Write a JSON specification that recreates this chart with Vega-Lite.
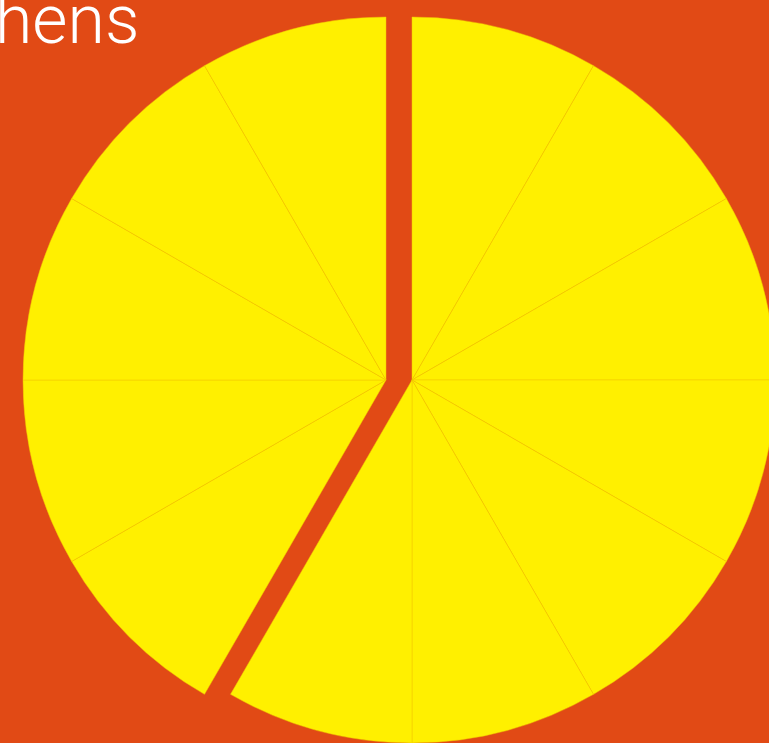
{
  "$schema": "https://vega.github.io/schema/vega-lite/v6.json",
  "autosize": {"type": "none"},
  "width": 740,
  "height": 726,
  "padding": {"left": 29, "top": 17, "right": 0, "bottom": 0},
  "background": "#E14A15",
  "view": {"stroke": null},
  "title": {
    "text": "hens",
    "anchor": "start",
    "frame": "group",
    "orient": "none",
    "offset": 0,
    "baseline": "alphabetic",
    "dx": -34,
    "dy": 26,
    "font": "Roboto",
    "fontWeight": 300,
    "fontSize": 68,
    "color": "#FFFFFF"
  },
  "data": {
    "values": [
      {"slice": 1, "start": 0, "end": 1, "group": "a"},
      {"slice": 2, "start": 1, "end": 2, "group": "a"},
      {"slice": 3, "start": 2, "end": 3, "group": "a"},
      {"slice": 4, "start": 3, "end": 4, "group": "a"},
      {"slice": 5, "start": 4, "end": 5, "group": "a"},
      {"slice": 6, "start": 5, "end": 6, "group": "a"},
      {"slice": 7, "start": 6, "end": 7, "group": "a"},
      {"slice": 8, "start": 7, "end": 8, "group": "b"},
      {"slice": 9, "start": 8, "end": 9, "group": "b"},
      {"slice": 10, "start": 9, "end": 10, "group": "b"},
      {"slice": 11, "start": 10, "end": 11, "group": "b"},
      {"slice": 12, "start": 11, "end": 12, "group": "b"}
    ]
  },
  "layer": [
    {
      "transform": [{"filter": "datum.group === 'a'"}],
      "mark": {"type": "arc", "xOffset": 13, "fill": "#FFF000", "stroke": "#F0C400", "strokeWidth": 0.5},
      "encoding": {
        "theta": {"field": "start", "type": "quantitative", "scale": {"domain": [0, 12], "range": [0, 6.283185307179586]}},
        "theta2": {"field": "end"}
      }
    },
    {
      "transform": [{"filter": "datum.group === 'b'"}],
      "mark": {"type": "arc", "xOffset": -13, "fill": "#FFF000", "stroke": "#F0C400", "strokeWidth": 0.5},
      "encoding": {
        "theta": {"field": "start", "type": "quantitative", "scale": {"domain": [0, 12], "range": [0, 6.283185307179586]}},
        "theta2": {"field": "end"}
      }
    }
  ]
}
